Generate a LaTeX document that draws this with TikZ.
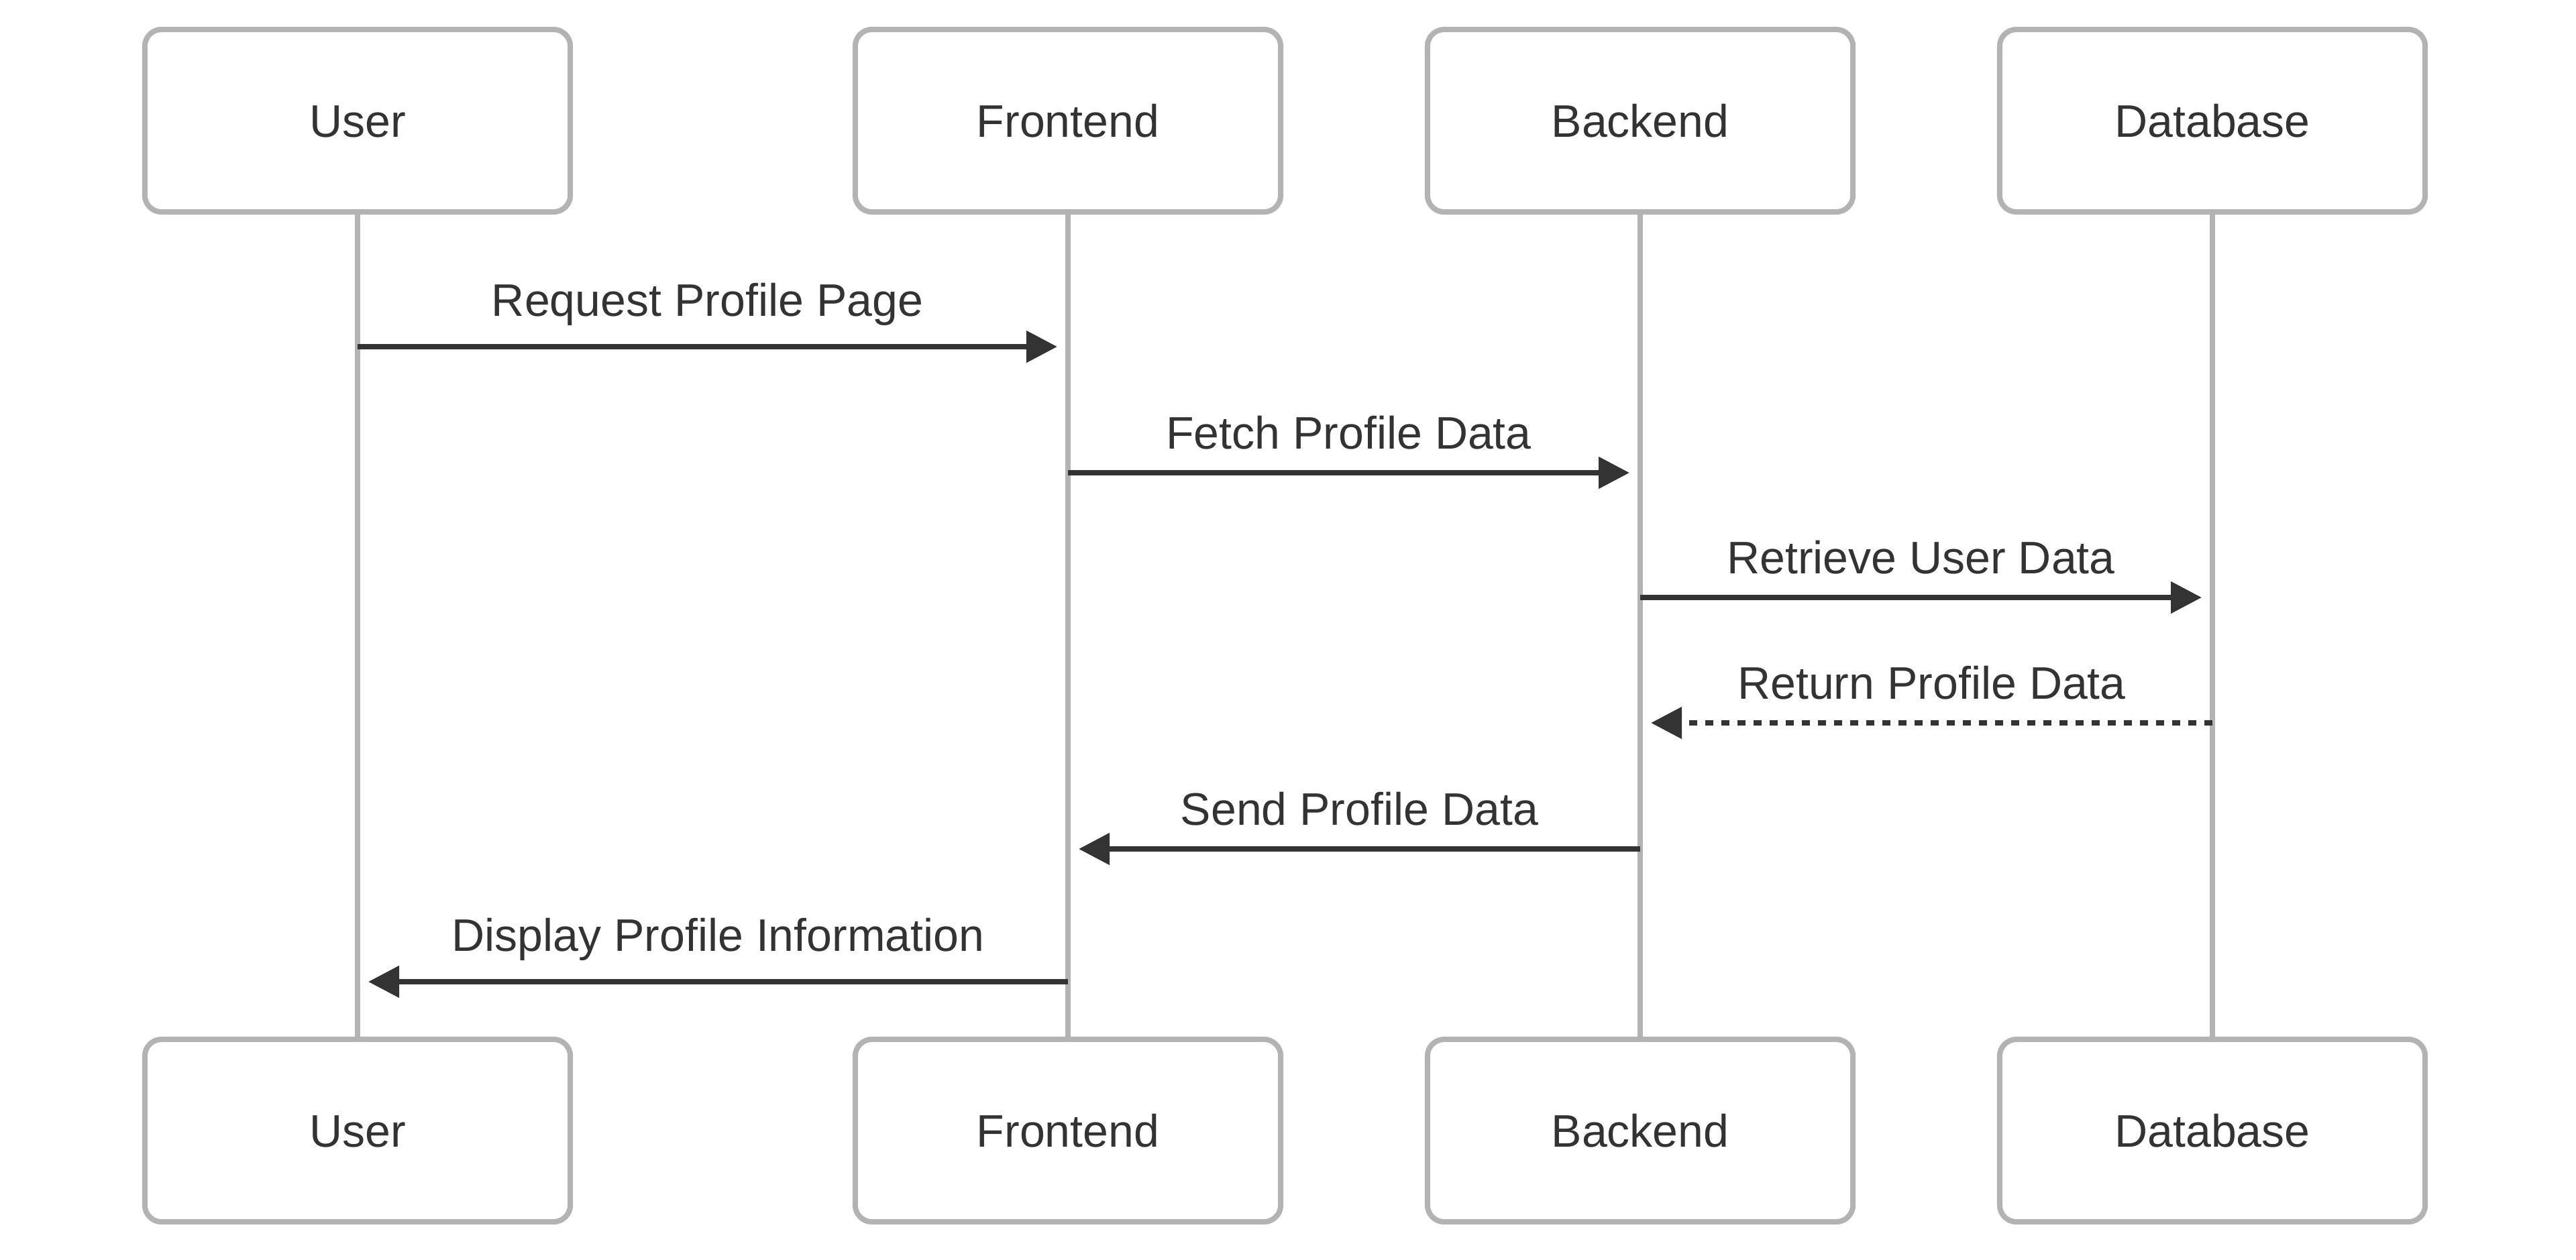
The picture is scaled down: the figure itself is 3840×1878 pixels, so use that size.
\documentclass[tikz,border=0pt]{standalone}
\usepackage{fontspec}
\setmainfont{Liberation Sans}
\usetikzlibrary{arrows.meta,calc}
\definecolor{boxgray}{HTML}{B3B3B3}
\definecolor{ink}{HTML}{333333}
\newcommand{\seqfont}{\fontsize{19.35pt}{23pt}\selectfont}
\begin{document}
\begin{tikzpicture}[x=0.01cm,y=-0.01cm,
  actor/.style={draw=boxgray, line width=0.08cm, rounded corners=0.25cm,
    minimum width=6.34cm, minimum height=2.72cm, inner sep=0pt, fill=white,
    text=ink, font=\seqfont, text height=0.49cm, text depth=0pt},
  lifeline/.style={draw=boxgray, line width=0.075cm},
  msg/.style={draw=ink, line width=0.08cm,
    -{Triangle[length=0.46cm,width=0.46cm]}, shorten >=0.16cm},
  reply/.style={msg, dash pattern=on 0.12cm off 0.12cm},
  lbl/.style={text=ink, font=\seqfont, anchor=base, inner sep=0pt}]
\useasboundingbox (0,0) rectangle (3840,1878);

% actors
\node[actor] (ut) at (533,180) {User};
\node[actor] (ft) at (1592,180) {Frontend};
\node[actor] (bt) at (2445,180) {Backend};
\node[actor] (dt) at (3298,180) {Database};
\node[actor] (ub) at (533,1686) {User};
\node[actor] (fb) at (1592,1686) {Frontend};
\node[actor] (bb) at (2445,1686) {Backend};
\node[actor] (db) at (3298,1686) {Database};

% lifelines
\draw[lifeline] (ut.south) -- (ub.north);
\draw[lifeline] (ft.south) -- (fb.north);
\draw[lifeline] (bt.south) -- (bb.north);
\draw[lifeline] (dt.south) -- (db.north);

% message anchor points on lifelines
\coordinate (m1s) at (533,517);  \coordinate (m1e) at (1592,517);
\coordinate (m2s) at (1592,705); \coordinate (m2e) at (2445,705);
\coordinate (m3s) at (2445,891); \coordinate (m3e) at (3298,891);
\coordinate (m4s) at (3298,1078); \coordinate (m4e) at (2445,1078);
\coordinate (m5s) at (2445,1266); \coordinate (m5e) at (1592,1266);
\coordinate (m6s) at (1592,1464); \coordinate (m6e) at (533,1464);

% messages
\draw[msg] (m1s) -- (m1e);
\node[lbl] (l1) at ($(m1s)!0.5!(m1e)+(-8,-46)$) {Request Profile Page};
\draw[msg] (m2s) -- (m2e);
\node[lbl] (l2) at ($(m2s)!0.5!(m2e)+(-8,-36)$) {Fetch Profile Data};
\draw[msg] (m3s) -- (m3e);
\node[lbl] (l3) at ($(m3s)!0.5!(m3e)+(-8,-36)$) {Retrieve User Data};
\draw[reply] (m4s) -- (m4e);
\node[lbl] (l4) at ($(m4s)!0.5!(m4e)+(8,-36)$) {Return Profile Data};
\draw[msg] (m5s) -- (m5e);
\node[lbl] (l5) at ($(m5s)!0.5!(m5e)+(8,-36)$) {Send Profile Data};
\draw[msg] (m6s) -- (m6e);
\node[lbl] (l6) at ($(m6s)!0.5!(m6e)+(8,-46)$) {Display Profile Information};
\end{tikzpicture}
\end{document}
